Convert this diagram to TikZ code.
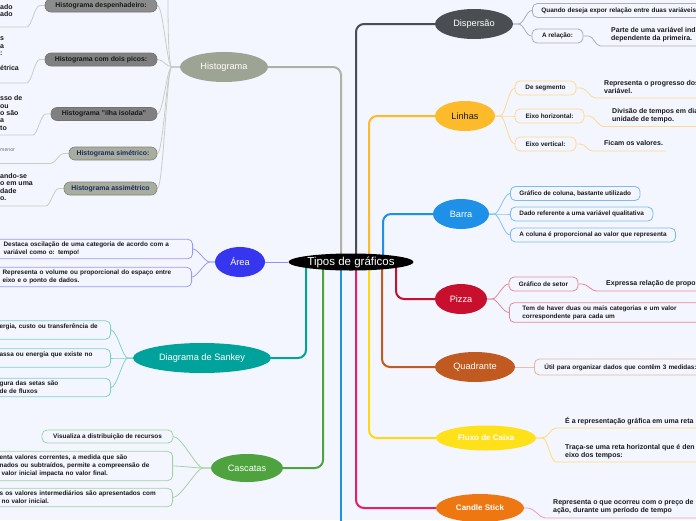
\documentclass[tikz,border=0pt]{standalone}
\usepackage{fontspec}
\setmainfont{Liberation Sans}
\usetikzlibrary{shapes.geometric,backgrounds}

\definecolor{paper}{RGB}{243,246,254}
\definecolor{ink}{RGB}{25,25,25}
\definecolor{navy}{RGB}{27,43,91}
\definecolor{histc}{RGB}{158,164,148}
\definecolor{dispc}{RGB}{74,78,82}
\definecolor{linhac}{RGB}{253,187,43}
\definecolor{barrac}{RGB}{30,144,232}
\definecolor{pizzac}{RGB}{200,16,46}
\definecolor{quadc}{RGB}{192,90,32}
\definecolor{fluxoc}{RGB}{255,225,26}
\definecolor{candlec}{RGB}{238,119,17}
\definecolor{candlel}{RGB}{233,30,99}
\definecolor{areac}{RGB}{54,54,240}
\definecolor{sankeyc}{RGB}{0,163,155}
\definecolor{cascc}{RGB}{78,163,63}

\begin{document}
\begin{tikzpicture}[x=1pt, y=-1pt,
		topic/.style={ellipse, inner sep=0pt, minimum height=30pt, text=white, font=\fontsize{9.2}{11}\selectfont},
		leaf/.style={draw, rounded corners=5pt, line width=0.8pt, inner xsep=6pt, inner ysep=1.5pt, minimum height=14pt, text=ink, font=\fontsize{6.4}{7.7}\selectfont\bfseries},
		note/.style={inner sep=0pt, align=left, text=ink, font=\fontsize{7}{8}\selectfont\bfseries},
		frag/.style={inner sep=0pt, align=left, text=ink, font=\fontsize{7}{7.4}\selectfont\bfseries},
		histbox/.style={draw=black!55, fill=black!45, rounded corners=6pt, line width=0.6pt, minimum height=13pt, inner sep=0pt, text=ink, font=\fontsize{6.9}{8}\selectfont\bfseries},
		link/.style={line width=2pt, rounded corners=8pt},
		twig/.style={line width=0.8pt}]
	\useasboundingbox (0,0) rectangle (696,520);

	\node[ellipse, fill=black, text=white, inner sep=0pt, minimum width=125pt, minimum height=17pt, font=\fontsize{11.5}{13}\selectfont] (tipos) at (351,262) {Tipos de gráficos};

	\node[topic, fill=histc, minimum width=88pt] (hist) at (224,67) {Histograma};
	\node[topic, fill=dispc, minimum width=78pt] (disp) at (474,24) {Dispersão};
	\node[topic, fill=linhac, text=ink, minimum width=60pt] (linhas) at (465,116) {Linhas};
	\node[topic, fill=barrac, minimum width=56pt] (barra) at (461,214) {Barra};
	\node[topic, fill=pizzac, minimum width=52pt] (pizza) at (461,299) {Pizza};
	\node[topic, fill=quadc, minimum width=80pt] (quad) at (475,367) {Quadrante};
	\node[topic, fill=fluxoc, minimum width=100pt, minimum height=25pt, font=\fontsize{8}{10}\selectfont\bfseries] (fluxo) at (486,438) {Fluxo de Caixa};
	\node[topic, fill=candlec, minimum width=88pt, minimum height=28pt, font=\fontsize{8}{10}\selectfont\bfseries] (candle) at (480,508) {Candle Stick};
	\node[topic, fill=areac, minimum width=50pt] (area) at (240,262) {Área};
	\node[topic, fill=sankeyc, minimum width=138pt] (sankey) at (202,358) {Diagrama de Sankey};
	\node[topic, fill=cascc, minimum width=72pt, minimum height=28pt] (casc) at (247,468) {Cascatas};

	\node[histbox, minimum width=112pt] (desp) at (101,5.5) {Histograma despenhadeiro:};
	\node[histbox, fill=black!50, minimum width=112pt] (picos) at (101,59.5) {Histograma com dois picos:};
	\node[histbox, fill=black!50, minimum width=106pt] (ilha) at (104,114) {Histograma "ilha isolada"};
	\node[histbox, draw=histc!80!black, fill=histc!90, text=navy, minimum width=88pt] (sim) at (113,153.5) {Histograma simétrico:};
	\node[histbox, draw=histc!80!black, fill=histc!90, text=navy, minimum width=93pt] (assim) at (110.5,188.5) {Histograma assimétrico};
	\node[frag, anchor=north west] (f1) at (0,4) {ado\\ado};
	\node[frag, anchor=north west] (f2) at (0,37) {s\\a\\:\\\mbox{}\\étrica};
	\node[frag, anchor=north west] (f3) at (0,95.5) {sso de\\ou\\o são\\a\\to};
	\node[inner sep=0pt, anchor=west, text=black!55, font=\fontsize{5.2}{6}\selectfont] (f4) at (0,150) {menor};
	\node[frag, anchor=north west] (f5) at (0,173) {ando-se\\o em uma\\dade\\o.};
	\coordinate (htop) at (168,-10);
	\coordinate (u1) at (-5,27);
	\coordinate (u2) at (-5,83);
	\coordinate (u3) at (-5,135);
	\coordinate (u4) at (-5,163.5);
	\coordinate (u5) at (-5,206);

	\node[leaf, draw=dispc!45, anchor=west, text width=200pt, inner xsep=9pt, align=left] (quando) at (532,10.5) {Quando deseja expor relação entre duas variáveis};
	\node[leaf, draw=dispc!45, minimum width=51pt] (relacao) at (557.5,36) {A relação:};
	\node[note, anchor=north west] (parte) at (611,27) {Parte de uma variável ind\\dependente da primeira.};
	\coordinate (parteu) at (700,46);

	\node[leaf, draw=linhac!55, minimum width=61pt] (segm) at (545.5,88) {De segmento};
	\node[leaf, draw=linhac!55, minimum width=69pt] (eixoh) at (549.5,116) {Eixo horizontal:};
	\node[leaf, draw=linhac!55, minimum width=61pt] (eixov) at (545.5,144) {Eixo vertical:};
	\node[note, anchor=north west] (progresso) at (604,80.5) {Representa o progresso dos\\variável.};
	\node[note, anchor=north west] (divisao) at (612,108.5) {Divisão de tempos em dia\\unidade de tempo.};
	\node[note, anchor=west] (ficam) at (604,143) {Ficam os valores.};
	\coordinate (progu) at (700,98);
	\coordinate (divu) at (700,126.5);
	\coordinate (ficamu) at (666,151);

	\node[leaf, draw=barrac!60, anchor=west, inner xsep=9pt] (coluna) at (510,193.5) {Gráfico de coluna, bastante utilizado};
	\node[leaf, draw=barrac!60, anchor=west, inner xsep=9pt] (dado) at (510,214) {Dado referente a uma variável qualitativa};
	\node[leaf, draw=barrac!60, anchor=west, inner xsep=9pt] (colprop) at (510,235) {A coluna é proporcional ao valor que representa};

	\node[leaf, draw=pizzac!50, minimum width=69pt] (setor) at (543.5,284) {Gráfico de setor};
	\node[note, anchor=west] (expressa) at (606,284) {Expressa relação de propor};
	\coordinate (expru) at (700,291);
	\node[leaf, draw=pizzac!50, anchor=west, text width=200pt, inner xsep=13pt, inner ysep=3pt, align=left] (haver) at (509,312.5) {Tem de haver duas ou mais categorias e um valor\\correspondente para cada um};

	\node[leaf, draw=quadc!45, anchor=west, text width=200pt, inner xsep=10pt, minimum height=16pt, align=left] (util) at (534,367) {Útil para organizar dados que contêm 3 medidas:};

	\node[note, anchor=west] (reta) at (565,421) {É a representação gráfica em uma reta};
	\node[note, anchor=north west] (traca) at (565,444.5) {Traça-se uma reta horizontal que é den\\eixo dos tempos:};
	\coordinate (retau) at (700,428);
	\coordinate (tracau) at (700,462);

	\node[note, anchor=north west] (ocorreu) at (553,499.5) {Representa o que ocorreu com o preço de\\ação, durante um período de tempo};
	\coordinate (ocorreuu) at (700,518);

	\node[leaf, draw=areac!50, anchor=east, text width=175pt, inner xsep=14pt, inner ysep=3pt, align=left] (destaca) at (193,249) {Destaca oscilação de uma categoria de acordo com a\\variável como o: tempo!};
	\node[leaf, draw=areac!50, anchor=east, text width=175pt, inner xsep=14pt, inner ysep=3pt, align=left] (volume) at (192,277) {Representa o volume ou proporcional do espaço entre\\eixo e o ponto de dados.};

	\node[leaf, draw=sankeyc!50, anchor=east, text width=100pt, inner xsep=11pt, inner ysep=3pt, align=left] (energia) at (111,330) {ergia, custo ou transferência de\\\mbox{}};
	\node[leaf, draw=sankeyc!50, anchor=east, text width=100pt, inner xsep=11pt, inner ysep=3pt, align=left] (massa) at (111,358) {assa ou energia que existe no\\\mbox{}};
	\node[leaf, draw=sankeyc!50, anchor=east, text width=100pt, inner xsep=11pt, inner ysep=3pt, align=left] (setas) at (111,387.5) {gura das setas são\\de de fluxos};

	\node[leaf, draw=cascc!50, minimum width=131pt, minimum height=13pt] (visualiza) at (107.5,436.5) {Visualiza a distribuição de recursos};
	\node[leaf, draw=cascc!50, anchor=east, text width=160pt, inner xsep=13pt, inner ysep=4pt, align=left] (correntes) at (173,466) {enta valores correntes, a medida que são\\nados ou subtraídos, permite a compreensão de\\\hspace*{2pt}valor inicial impacta no valor final.};
	\node[leaf, draw=cascc!50, anchor=east, text width=160pt, inner xsep=13pt, inner ysep=3pt, align=left] (intermed) at (173,497.5) {s os valores intermediários são apresentados com\\\hspace*{2pt}no valor inicial.};

	\coordinate (hbus) at (341,0);
	\coordinate (dbus) at (356,0);
	\coordinate (lbus) at (369,0);
	\coordinate (bbus) at (383,0);
	\coordinate (pbus) at (396,0);
	\coordinate (qbus) at (382,0);
	\coordinate (fbus) at (369,0);
	\coordinate (cbus) at (356,0);
	\coordinate (xend) at (341,530);
	\coordinate (kbus) at (323,0);
	\coordinate (sbus) at (306,0);

	\begin{scope}[on background layer]
		\fill[paper] (0,0) rectangle (696,520);

		\draw[link, histc!85] (tipos.center -| hbus) |- (hist.east);
		\draw[link, dispc] (tipos.center -| dbus) |- (disp.west);
		\draw[link, linhac] (tipos.center -| lbus) |- (linhas.west);
		\draw[link, barrac] (tipos.center -| bbus) |- (barra.west);
		\draw[link, pizzac] (tipos.center -| pbus) |- (pizza.west);
		\draw[link, quadc] (tipos.center -| qbus) |- (quad.west);
		\draw[link, fluxoc!90!orange] (tipos.center -| fbus) |- (fluxo.west);
		\draw[link, candlel] (tipos.center -| cbus) |- (candle.west);
		\draw[link, barrac] (tipos.center -| xend) -- (xend);
		\draw[link, cascc] (tipos.center -| kbus) |- (casc.east);
		\draw[link, sankeyc] (tipos.center -| sbus) |- (sankey.east);
		\draw[line width=1pt, areac!55] (area) -- (tipos);

		\draw[twig, histc!55] (hist.west) -- ++(-8,0) .. controls +(-4,0) and +(0,20) .. (htop);
		\draw[twig, histc!55] (hist.west) -- ++(-8,0) .. controls +(-5,0) and +(6,0) .. (desp.east);
		\draw[twig, histc!55] (hist.west) -- ++(-8,0) .. controls +(-5,0) and +(6,0) .. (picos.east);
		\draw[twig, histc!55] (hist.west) -- ++(-8,0) .. controls +(-5,0) and +(6,0) .. (ilha.east);
		\draw[twig, histc!55] (hist.west) -- ++(-8,0) .. controls +(-5,0) and +(6,0) .. (sim.east);
		\draw[twig, histc!55] (hist.west) -- ++(-8,0) .. controls +(-5,0) and +(6,0) .. (assim.east);
		\draw[twig, histc!55] (desp.west) -- ++(-5,0) .. controls +(-5,0) and +(5,0) .. ++(-13,21.5) -- (u1);
		\draw[twig, histc!55] (picos.west) -- ++(-5,0) .. controls +(-5,0) and +(5,0) .. ++(-13,23.5) -- (u2);
		\draw[twig, histc!55] (ilha.west) -- ++(-5,0) .. controls +(-5,0) and +(5,0) .. ++(-13,21) -- (u3);
		\draw[twig, histc!55] (sim.west) -- ++(-5,0) .. controls +(-5,0) and +(5,0) .. ++(-13,10) -- (u4);
		\draw[twig, histc!55] (assim.west) -- ++(-5,0) .. controls +(-5,0) and +(5,0) .. ++(-13,17.5) -- (u5);

		\draw[twig, dispc!45] (disp.east) -- ++(5,0) .. controls +(6,0) and +(-6,0) .. (quando.west);
		\draw[twig, dispc!45] (disp.east) -- ++(5,0) .. controls +(6,0) and +(-6,0) .. (relacao.west);
		\draw[twig, dispc!45] (relacao.east) -- ++(5,0) .. controls +(5,0) and +(-5,0) .. ++(12,10) -- (parteu);

		\draw[twig, linhac!55] (linhas.east) -- ++(5,0) .. controls +(5,0) and +(-6,0) .. (segm.west);
		\draw[twig, linhac!55] (linhas.east) -- ++(5,0) .. controls +(5,0) and +(-6,0) .. (eixoh.west);
		\draw[twig, linhac!55] (linhas.east) -- ++(5,0) .. controls +(5,0) and +(-6,0) .. (eixov.west);
		\draw[twig, linhac!55] (segm.east) -- ++(5,0) .. controls +(5,0) and +(-5,0) .. ++(14,10) -- (progu);
		\draw[twig, linhac!55] (eixoh.east) -- ++(5,0) .. controls +(5,0) and +(-5,0) .. ++(14,10.5) -- (divu);
		\draw[twig, linhac!55] (eixov.east) -- ++(4,0) .. controls +(5,0) and +(-5,0) .. ++(12,7) -- (ficamu);

		\draw[twig, barrac!55] (barra.east) -- ++(5,0) .. controls +(5,0) and +(-6,0) .. (coluna.west);
		\draw[twig, barrac!55] (barra.east) -- ++(5,0) .. controls +(5,0) and +(-6,0) .. (dado.west);
		\draw[twig, barrac!55] (barra.east) -- ++(5,0) .. controls +(5,0) and +(-6,0) .. (colprop.west);

		\draw[twig, pizzac!50] (pizza.east) -- ++(5,0) .. controls +(5,0) and +(-6,0) .. (setor.west);
		\draw[twig, pizzac!50] (pizza.east) -- ++(5,0) .. controls +(5,0) and +(-6,0) .. (haver.west);
		\draw[twig, pizzac!50] (setor.east) -- ++(4,0) .. controls +(5,0) and +(-5,0) .. ++(14,7) -- (expru);

		\draw[twig, quadc!40] (quad.east) -- (util.west);

		\draw[twig, fluxoc!70!orange!60] (fluxo.east) -- ++(6,0) .. controls +(6,0) and +(-6,0) .. ++(14,-10) -- (retau);
		\draw[twig, fluxoc!70!orange!60] (fluxo.east) -- ++(6,0) .. controls +(6,0) and +(-6,0) .. ++(14,24) -- (tracau);

		\draw[twig, candlel!45] (candle.east) -- ++(3,0) .. controls +(8,0) and +(-6,0) .. ++(18,10) -- (ocorreuu);

		\draw[twig, areac!50] (area.west) -- ++(-5,0) .. controls +(-5,0) and +(5,0) .. (destaca.east);
		\draw[twig, areac!50] (area.west) -- ++(-5,0) .. controls +(-5,0) and +(5,0) .. (volume.east);

		\draw[twig, sankeyc!50] (sankey.west) -- ++(-5,0) .. controls +(-5,0) and +(6,0) .. (energia.east);
		\draw[twig, sankeyc!50] (sankey.west) -- ++(-5,0) .. controls +(-5,0) and +(6,0) .. (massa.east);
		\draw[twig, sankeyc!50] (sankey.west) -- ++(-5,0) .. controls +(-5,0) and +(6,0) .. (setas.east);

		\draw[twig, cascc!50] (casc.west) -- ++(-8,0) .. controls +(-6,0) and +(8,0) .. (visualiza.east);
		\draw[twig, cascc!50] (casc.west) -- ++(-8,0) .. controls +(-6,0) and +(8,0) .. (correntes.east);
		\draw[twig, cascc!50] (casc.west) -- ++(-8,0) .. controls +(-6,0) and +(8,0) .. (intermed.east);
	\end{scope}
\end{tikzpicture}
\end{document}
